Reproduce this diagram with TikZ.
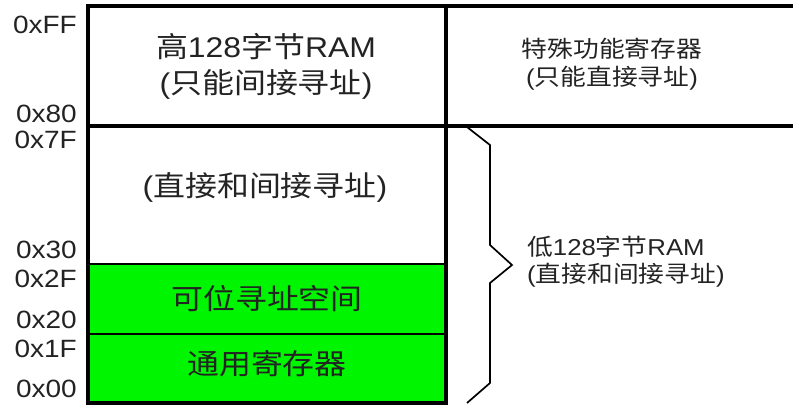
\documentclass[tikz,border=0pt]{standalone}
\usepackage{fontspec}
\setmainfont{Liberation Sans}[FakeStretch=1.12]
\newfontfamily\cjk{Noto Sans CJK SC}[FakeStretch=1.12]
\newcommand\zh[1]{{\cjk #1}}
\definecolor{ramgreen}{RGB}{0,245,0}
\definecolor{txt}{RGB}{35,35,35}
\begin{document}
\begin{tikzpicture}[x=1pt,y=-1pt,
  frame/.style={line width=3.2pt},
  thinframe/.style={line width=2.6pt},
  bracestyle/.style={line width=1.7pt, line join=miter},
  hexlabel/.style={anchor=base east, inner sep=0pt, text=txt, font=\fontsize{25}{28}\selectfont},
  boxtext/.style={align=center, inner sep=0pt, text=txt, font=\fontsize{28.5}{36}\selectfont},
  sidetext/.style={align=center, inner sep=0pt, text=txt, font=\fontsize{23}{28}\selectfont},
  sidetextl/.style={align=left, anchor=west, inner sep=0pt, text=txt, font=\fontsize{23}{27}\selectfont}]
\useasboundingbox (0,0) rectangle (793,405);
% green area
\fill[ramgreen] (88,264) rectangle (446,403);
% frame
\draw[frame] (88,6) rectangle (446,403);
\draw[frame] (446,6) -- (800,6);
\draw[frame] (88,126) -- (800,126);
\draw[thinframe] (88,264) -- (446,264);
\draw[thinframe] (88,334) -- (446,334);
% brace
\draw[bracestyle] (467,127) -- (490,145) -- (490,245) -- (512,265) -- (490,283) -- (490,383) -- (467,403);
% hex labels
\node[hexlabel] (hFF) at (77,33) {0xFF};
\node[hexlabel] (h80) at (77,122) {0x80};
\node[hexlabel] (h7F) at (77,148) {0x7F};
\node[hexlabel] (h30) at (77,258) {0x30};
\node[hexlabel] (h2F) at (77,287) {0x2F};
\node[hexlabel] (h20) at (77,328) {0x20};
\node[hexlabel] (h1F) at (77,357) {0x1F};
\node[hexlabel] (h00) at (77,397) {0x00};
% box texts
\node[boxtext] (high) at (266,66) {\zh{高}128\zh{字节}RAM\\(\zh{只能间接寻址})};
\node[boxtext] (direct) at (265,187) {(\zh{直接和间接寻址})};
\node[boxtext] (bit) at (267,299) {\zh{可位寻址空间}};
\node[boxtext] (reg) at (267,364) {\zh{通用寄存器}};
% right texts
\node[sidetext] (sfr) at (612,64) {\zh{特殊功能寄存器}\\(\zh{只能直接寻址})};
\node[sidetextl] (low) at (527,262) {\zh{低}128\zh{字节}RAM\\(\zh{直接和间接寻址})};
\end{tikzpicture}
\end{document}
